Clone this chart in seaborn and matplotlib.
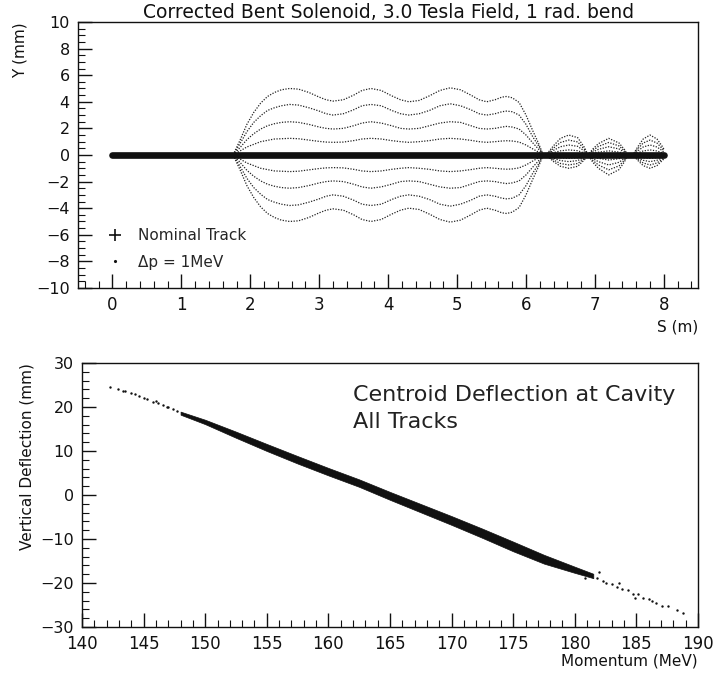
import matplotlib
matplotlib.use("Agg")
import matplotlib.pyplot as plt
from matplotlib.ticker import MultipleLocator
from matplotlib.lines import Line2D
import seaborn as sns

# ---------------- data: top panel ----------------
TITLE = "Corrected Bent Solenoid, 3.0 Tesla Field, 1 rad. bend"
NOMINAL_S = [0.0, 8.0]
NOMINAL_Y = [0.0, 0.0]

S_MAIN = [1.75, 1.85, 1.95, 2.05, 2.15, 2.25, 2.35, 2.45, 2.57, 2.7, 2.85, 3.0, 3.1, 3.2,
          3.35, 3.5, 3.62, 3.75, 3.9, 4.05, 4.18, 4.3, 4.45, 4.6, 4.75, 4.9, 5.05, 5.2,
          5.32, 5.43, 5.55, 5.65, 5.72, 5.8, 5.9, 6.0, 6.1, 6.18, 6.25]
S_TAIL = [6.3, 6.4, 6.5, 6.62, 6.75, 6.85, 6.9, 6.97, 7.05, 7.2, 7.35, 7.43, 7.47, 7.55,
          7.62, 7.7, 7.8, 7.9, 7.97, 8.0]

UP4_MAIN = [0, 1.1, 2.3, 3.2, 3.9, 4.4, 4.7, 4.9, 5.0, 4.95, 4.7, 4.35, 4.15, 4.05, 4.15, 4.5,
            4.85, 5.0, 4.85, 4.45, 4.15, 4.0, 4.1, 4.45, 4.85, 5.05, 4.9, 4.5, 4.15, 4.0, 4.15,
            4.35, 4.4, 4.3, 3.95, 3.0, 1.8, 0.9, 0]
UP3_MAIN = [0, 0.85, 1.75, 2.45, 2.95, 3.35, 3.55, 3.7, 3.8, 3.75, 3.55, 3.3, 3.1, 3.0, 3.1, 3.4,
            3.7, 3.8, 3.7, 3.35, 3.1, 3.0, 3.1, 3.35, 3.7, 3.85, 3.7, 3.4, 3.1, 3.0, 3.1, 3.25,
            3.3, 3.25, 3.0, 2.3, 1.35, 0.7, 0]
UP2_MAIN = [0, 0.55, 1.15, 1.6, 1.95, 2.2, 2.35, 2.45, 2.5, 2.45, 2.3, 2.1, 2.0, 1.95, 2.0, 2.2,
            2.4, 2.5, 2.4, 2.2, 2.0, 1.95, 2.0, 2.2, 2.4, 2.5, 2.45, 2.2, 2.0, 1.95, 2.0, 2.1,
            2.15, 2.1, 1.95, 1.5, 0.9, 0.45, 0]
UP1_MAIN = [0, 0.3, 0.6, 0.8, 1.0, 1.1, 1.2, 1.22, 1.25, 1.22, 1.12, 1.02, 0.97, 0.95, 0.97, 1.08,
            1.2, 1.25, 1.2, 1.08, 1.0, 0.95, 1.0, 1.08, 1.2, 1.25, 1.2, 1.1, 1.0, 0.95, 1.0, 1.05,
            1.07, 1.05, 0.97, 0.75, 0.45, 0.22, 0]
LO4_MAIN = [0, -1.1, -2.3, -3.2, -3.9, -4.4, -4.7, -4.9, -5.0, -4.95, -4.7, -4.35, -4.15, -4.05,
            -4.15, -4.5, -4.85, -5.0, -4.85, -4.45, -4.15, -4.0, -4.1, -4.45, -4.85, -5.05, -4.9,
            -4.5, -4.15, -4.0, -4.15, -4.35, -4.4, -4.3, -3.95, -3.0, -1.8, -0.9, 0]
LO3_MAIN = [0, -0.85, -1.75, -2.45, -2.95, -3.35, -3.55, -3.7, -3.8, -3.75, -3.55, -3.3, -3.1, -3.0,
            -3.1, -3.4, -3.7, -3.8, -3.7, -3.35, -3.1, -3.0, -3.1, -3.35, -3.7, -3.85, -3.7, -3.4,
            -3.1, -3.0, -3.1, -3.25, -3.3, -3.25, -3.0, -2.3, -1.35, -0.7, 0]
LO2_MAIN = [0, -0.55, -1.15, -1.6, -1.95, -2.2, -2.35, -2.45, -2.5, -2.45, -2.3, -2.1, -2.0, -1.95,
            -2.0, -2.2, -2.4, -2.5, -2.4, -2.2, -2.0, -1.95, -2.0, -2.2, -2.4, -2.5, -2.45, -2.2,
            -2.0, -1.95, -2.0, -2.1, -2.15, -2.1, -1.95, -1.5, -0.9, -0.45, 0]
LO1_MAIN = [0, -0.3, -0.6, -0.8, -1.0, -1.1, -1.2, -1.22, -1.25, -1.22, -1.12, -1.02, -0.97, -0.95,
            -0.97, -1.08, -1.2, -1.25, -1.2, -1.08, -1.0, -0.95, -1.0, -1.08, -1.2, -1.25, -1.2,
            -1.1, -1.0, -0.95, -1.0, -1.05, -1.07, -1.05, -0.97, -0.75, -0.45, -0.22, 0]

UP4_TAIL = [-0.05, -0.5, -0.85, -1.0, -0.85, -0.35, 0, 0.45, 0.85, 1.25, 0.9, 0.4, 0.05, 0, -0.4, -0.8, -1.0, -0.8, -0.45, -0.3]
UP3_TAIL = [-0.04, -0.38, -0.64, -0.75, -0.64, -0.26, 0, 0.34, 0.64, 0.94, 0.68, 0.3, 0.04, 0, -0.3, -0.6, -0.75, -0.6, -0.34, -0.22]
UP2_TAIL = [-0.02, -0.25, -0.42, -0.5, -0.42, -0.18, 0, 0.22, 0.42, 0.62, 0.45, 0.2, 0.02, 0, -0.2, -0.4, -0.5, -0.4, -0.22, -0.15]
UP1_TAIL = [-0.01, -0.12, -0.21, -0.25, -0.21, -0.09, 0, 0.11, 0.21, 0.31, 0.22, 0.1, 0.01, 0, -0.1, -0.2, -0.25, -0.2, -0.11, -0.08]
LO4_TAIL = [0.05, 0.7, 1.25, 1.5, 1.3, 0.55, 0, -0.55, -1.0, -1.5, -1.1, -0.5, -0.05, 0, 0.6, 1.2, 1.5, 1.2, 0.7, 0.45]
LO3_TAIL = [0.04, 0.52, 0.94, 1.12, 0.98, 0.41, 0, -0.41, -0.75, -1.12, -0.82, -0.38, -0.04, 0, 0.45, 0.9, 1.12, 0.9, 0.52, 0.34]
LO2_TAIL = [0.02, 0.35, 0.62, 0.75, 0.65, 0.28, 0, -0.28, -0.5, -0.75, -0.55, -0.25, -0.02, 0, 0.3, 0.6, 0.75, 0.6, 0.35, 0.22]
LO1_TAIL = [0.01, 0.18, 0.31, 0.38, 0.32, 0.14, 0, -0.14, -0.25, -0.38, -0.28, -0.12, -0.01, 0, 0.15, 0.3, 0.38, 0.3, 0.18, 0.11]

CURVES = {
    "+4": UP4_MAIN + UP4_TAIL, "+3": UP3_MAIN + UP3_TAIL,
    "+2": UP2_MAIN + UP2_TAIL, "+1": UP1_MAIN + UP1_TAIL,
    "-1": LO1_MAIN + LO1_TAIL, "-2": LO2_MAIN + LO2_TAIL,
    "-3": LO3_MAIN + LO3_TAIL, "-4": LO4_MAIN + LO4_TAIL,
}
S_ALL = S_MAIN + S_TAIL

# ---------------- data: bottom panel ----------------
BAND_P = [148, 150, 152.5, 155, 157.5, 160, 162.5, 165, 167.5, 170, 172.5, 175, 177.5, 180, 181.5]
BAND_D = [18.6, 16.6, 13.7, 10.8, 8.0, 5.3, 2.7, -0.2, -3.0, -5.8, -8.7, -11.7, -14.6, -17.0, -18.4]
BAND_HW = [0.35, 0.5, 0.7, 0.8, 0.85, 0.85, 0.85, 0.9, 0.95, 1.0, 1.05, 1.1, 1.0, 0.7, 0.5]

TAIL_P = [142.3, 142.9, 143.3, 143.5, 144.0, 144.3, 144.6, 145.0, 145.3, 145.8, 146.0, 146.2, 146.6,
          146.9, 147.0, 147.4, 147.7,
          180.8, 181.2, 181.8, 182.0, 182.3, 182.5, 183.0, 183.4, 183.6, 183.8, 184.3, 184.7, 184.9,
          185.1, 185.5, 186.0, 186.3, 186.6, 187.1, 187.6, 188.3, 188.8]
TAIL_D = [24.6, 24.1, 23.6, 23.6, 23.1, 22.9, 22.5, 22.0, 21.8, 21.2, 21.3, 20.8, 20.4,
          20.0, 20.0, 19.5, 19.2,
          -18.8, -18.0, -18.9, -17.6, -19.5, -19.9, -20.2, -20.9, -20.1, -21.3, -21.6, -22.5, -23.3,
          -22.5, -23.3, -23.6, -24.0, -24.6, -25.2, -25.3, -26.2, -26.9]

ANNOT = "Centroid Deflection at Cavity\nAll Tracks"

# ---------------- styling ----------------
sns.set_theme(style="white")
plt.rcParams["font.family"] = ["DejaVu Sans"]
plt.rcParams["axes.edgecolor"] = "black"
plt.rcParams["axes.linewidth"] = 1.0

fig = plt.figure(figsize=(7.13, 6.76), dpi=100)
ax1 = fig.add_axes([0.1094, 0.574, 0.870, 0.3935])
ax2 = fig.add_axes([0.115, 0.0725, 0.864, 0.3905])

INK = "#111111"

# top panel
for name, ys in CURVES.items():
    sns.lineplot(x=S_ALL, y=ys, ax=ax1, sort=False, estimator=None, color="#222222",
                 linewidth=0.9, linestyle=(0, (1, 1.2)))
sns.lineplot(x=NOMINAL_S, y=NOMINAL_Y, ax=ax1, sort=False, estimator=None, color=INK,
             linewidth=4.8)

ax1.set_xlim(-0.5, 8.5)
ax1.set_ylim(-10, 10)
ax1.xaxis.set_major_locator(MultipleLocator(1))
ax1.xaxis.set_minor_locator(MultipleLocator(0.2))
ax1.yaxis.set_major_locator(MultipleLocator(2))
ax1.yaxis.set_minor_locator(MultipleLocator(0.5))
ax1.set_title(TITLE, fontsize=13.5, pad=2, color=INK)
ax1.set_xlabel("S (m)", loc="right", fontsize=11, color=INK, labelpad=4)
ax1.set_ylabel("Y (mm)", loc="top", fontsize=11, color=INK, labelpad=6)

handles = [Line2D([], [], marker="+", color=INK, linestyle="none", markersize=9, markeredgewidth=1.2),
           Line2D([], [], marker=".", color=INK, linestyle="none", markersize=2.5)]
ax1.legend(handles, ["Nominal Track", "Δp = 1MeV"], loc="lower left",
           bbox_to_anchor=(0.035, 0.04), frameon=False, fontsize=11, handlelength=1.0,
           handletextpad=1.0, labelspacing=0.75, borderpad=0)

# bottom panel
ax2.fill_between(BAND_P, [d - w for d, w in zip(BAND_D, BAND_HW)],
                 [d + w for d, w in zip(BAND_D, BAND_HW)], color=INK, linewidth=0.5,
                 edgecolor=INK)
sns.scatterplot(x=TAIL_P, y=TAIL_D, ax=ax2, s=3, color=INK, linewidth=0)
ax2.set_xlim(140, 190)
ax2.set_ylim(-30, 30)
ax2.xaxis.set_major_locator(MultipleLocator(5))
ax2.xaxis.set_minor_locator(MultipleLocator(1))
ax2.yaxis.set_major_locator(MultipleLocator(10))
ax2.yaxis.set_minor_locator(MultipleLocator(2))
ax2.set_xlabel("Momentum (MeV)", loc="right", fontsize=11, color=INK, labelpad=0)
ax2.set_ylabel("Vertical Deflection (mm)", loc="top", fontsize=11, color=INK, labelpad=4)
ax2.text(0.44, 0.915, ANNOT, transform=ax2.transAxes, ha="left", va="top", fontsize=16,
         linespacing=1.4, color="#222222")

for ax in (ax1, ax2):
    ax.tick_params(which="major", direction="in", length=10, width=1.0, colors=INK,
                   top=False, right=False, bottom=True, left=True, labelsize=12, pad=6)
    ax.tick_params(which="minor", direction="in", length=5, width=0.8, colors=INK,
                   top=False, right=False, bottom=True, left=True)
    ax.tick_params(axis="y", labelsize=11.5)
    for sp in ax.spines.values():
        sp.set_visible(True)
        sp.set_color(INK)

fig.savefig("out.png", dpi=100, facecolor="white")
